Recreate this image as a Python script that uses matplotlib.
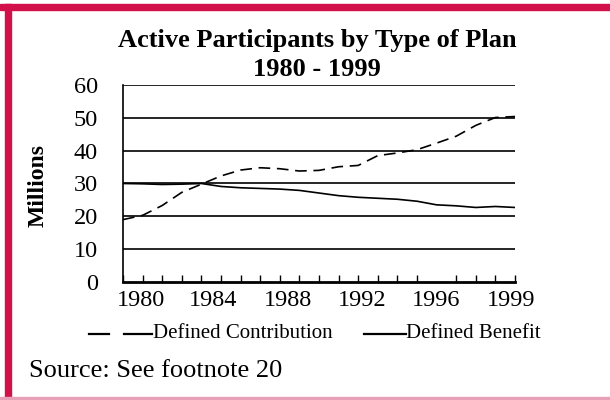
import numpy as np
import matplotlib
matplotlib.use('Agg')
import matplotlib.pyplot as plt
from matplotlib.lines import Line2D
from matplotlib.patches import Rectangle

plt.rcParams['font.family'] = ['Liberation Serif', 'DejaVu Serif']

# values (millions), one per tick on the x axis
defined_contribution = [19.0, 20.3, 23.3, 27.3, 29.8, 32.3, 34.1, 34.8, 34.5, 33.8, 34.0,
                        35.1, 35.5, 38.5, 39.3, 40.3, 42.3, 44.4, 47.7, 50.1, 50.4]
defined_benefit = [30.0, 29.9, 29.7, 29.8, 30.0, 29.1, 28.7, 28.5, 28.3, 27.9, 27.1,
                   26.3, 25.8, 25.5, 25.2, 24.6, 23.5, 23.2, 22.7, 23.0, 22.7]
year_labels = ['1980', '1984', '1988', '1992', '1996', '1999']
y_ticks = [0, 10, 20, 30, 40, 50, 60]

x = np.arange(len(defined_benefit))
W, H = 610, 400

def fx(px):
    return px / W

def fy(py):
    return 1 - py / H

fig = plt.figure(figsize=(6.1, 4.0), dpi=100)
red = '#d2104a'
# frame
fig.patches.append(Rectangle((0, fy(10)), 1, 6/H, transform=fig.transFigure,
                             color=red, zorder=0))
fig.patches.append(Rectangle((fx(5), 0), 6/W, fy(4), transform=fig.transFigure,
                             color=red, zorder=0))
fig.patches.append(Rectangle((0, 1/H), 1, 2/H, transform=fig.transFigure,
                             color='#e8a0b8', zorder=0))

ax = fig.add_axes([fx(123), fy(282), 392/W, 197/H])
ax.set_xlim(0, 20)
ax.set_ylim(0, 60)

for v in y_ticks[1:]:
    ax.axhline(v, color='black', lw=1.2, zorder=1)

ax.plot(x, defined_contribution, color='black', lw=1.2, dashes=(7, 4), zorder=3)
ax.plot(x, defined_benefit, color='black', lw=1.2, zorder=3)

for s in ['top', 'right']:
    ax.spines[s].set_visible(False)
ax.spines['left'].set_linewidth(1.2)
ax.spines['bottom'].set_linewidth(2)

ax.set_yticks(y_ticks)
ax.set_yticklabels([str(v) for v in y_ticks], fontsize=17.5)
ax.tick_params(axis='y', length=0, pad=18)

label_pos = [0.9, 4.6, 8.4, 12.2, 16.0, 19.8]
ax.set_xticks(label_pos)
ax.set_xticklabels(year_labels, fontsize=17.5)
ax.tick_params(axis='x', which='major', length=0, pad=6)
ax.set_xticks(x, minor=True)
ax.tick_params(axis='x', which='minor', direction='in', length=5, width=1)

ax.set_ylabel('Millions', fontsize=17, fontweight='bold')
ax.yaxis.set_label_coords(-0.19, 0.49)

fig.text(fx(317), fy(41), 'Active Participants by Type of Plan', ha='center',
         va='center', fontsize=19, fontweight='bold')
fig.text(fx(317), fy(69), '1980 - 1999', ha='center', va='center',
         fontsize=19, fontweight='bold')

# legend
ly = fy(334)
for a, b in [(89, 109), (124, 152)]:
    fig.add_artist(Line2D([fx(a), fx(b)], [ly, ly], color='black', lw=1.6,
                          transform=fig.transFigure))
fig.text(fx(153), ly, 'Defined Contribution', ha='left', va='center', fontsize=15)
fig.add_artist(Line2D([fx(364), fx(406)], [ly, ly], color='black', lw=1.6,
                      transform=fig.transFigure))
fig.text(fx(406), ly, 'Defined Benefit', ha='left', va='center', fontsize=15)

fig.text(fx(29), fy(371), 'Source: See footnote 20', ha='left', va='center',
         fontsize=19)

fig.savefig('out.png', dpi=100)
